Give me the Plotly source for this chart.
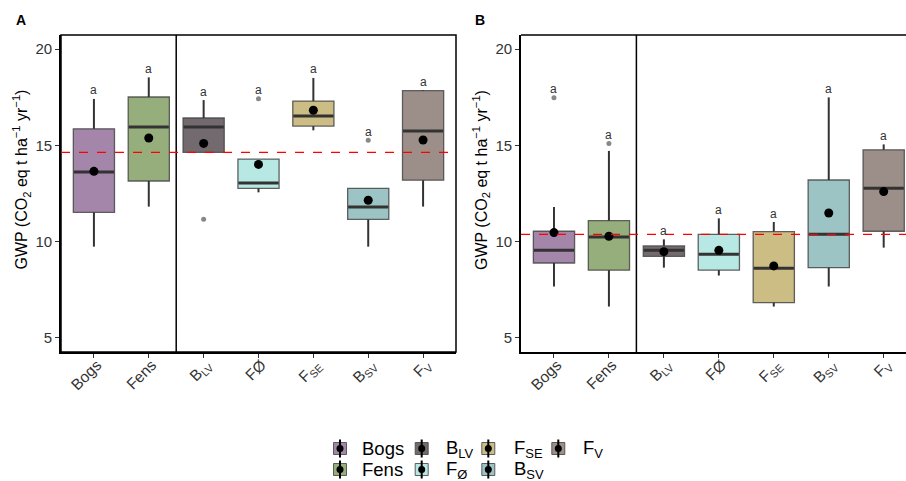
import plotly.graph_objects as go

# ---------------- data ----------------
categories = ["Bogs", "Fens", "BLV", "FØ", "FSE", "BSV", "FV"]
tick_labels = ["Bogs", "Fens", "B<sub>LV</sub>", "FØ", "F<sub>SE</sub>", "B<sub>SV</sub>", "F<sub>V</sub>"]
colors = ["#a386aa", "#96ae7b", "#736a6f", "#b8e8e4", "#ccbd85", "#9dc4c5", "#9c8f89"]
letters = ["a", "a", "a", "a", "a", "a", "a"]

# Panel A
a_lower = [9.74, 11.82, 14.64, 12.56, 15.78, 9.74, 11.82]
a_q1 = [11.52, 13.15, 14.64, 12.77, 16.00, 11.16, 13.19]
a_med = [13.62, 15.95, 15.95, 13.05, 16.52, 11.80, 15.74]
a_q3 = [15.86, 17.51, 16.42, 14.29, 17.30, 12.77, 17.84]
a_upper = [17.41, 18.53, 17.35, 14.29, 18.50, 12.77, 17.87]
a_mean = [13.65, 15.38, 15.10, 14.01, 16.82, 12.15, 15.28]
a_out_cat = ["BLV", "FØ", "BSV"]
a_out_val = [11.16, 17.42, 15.26]
a_ref = 14.64

# Panel B
b_lower = [7.67, 6.63, 8.65, 8.24, 6.63, 7.67, 9.69]
b_q1 = [8.89, 8.52, 9.24, 8.52, 6.83, 8.65, 10.54]
b_med = [9.55, 10.24, 9.55, 9.35, 8.62, 10.38, 12.77]
b_q3 = [10.54, 11.09, 9.78, 10.38, 10.52, 13.20, 14.77]
b_upper = [11.80, 14.71, 10.12, 11.21, 11.02, 17.49, 15.05]
b_mean = [10.47, 10.28, 9.48, 9.55, 8.74, 11.49, 12.60]
b_out_cat = ["Bogs", "Fens"]
b_out_val = [17.47, 15.10]
b_ref = 10.38

# ---------------- figure ----------------
W, H = 906, 481
FONT = "Liberation Sans, Arial, sans-serif"
BOXW = 0.75
pos = list(range(1, len(categories) + 1))
idx = {c: i for i, c in enumerate(categories)}

fig = go.Figure()


def add_panel(xa, ya, lower, q1, med, q3, upper, mean, out_cat, out_val):
    xref = "x" if xa == 1 else f"x{xa}"
    yref = "y" if ya == 1 else f"y{ya}"
    # whiskers
    wx, wy = [], []
    for i, p in enumerate(pos):
        wx += [p, p, None, p, p, None]
        wy += [lower[i], q1[i], None, q3[i], upper[i], None]
    fig.add_trace(go.Scatter(x=wx, y=wy, mode="lines", line=dict(color="#333333", width=2),
                             xaxis=xref, yaxis=yref, showlegend=False, hoverinfo="skip"))
    # boxes
    for i, p in enumerate(pos):
        fig.add_trace(go.Box(x=[p], q1=[q1[i]], median=[med[i]], q3=[q3[i]],
                             lowerfence=[q1[i]], upperfence=[q3[i]], width=BOXW,
                             fillcolor=colors[i], line=dict(color="rgba(70,70,70,0.85)", width=1.3),
                             xaxis=xref, yaxis=yref, showlegend=False, name=categories[i]))
    # medians
    mx, my = [], []
    for i, p in enumerate(pos):
        mx += [p - BOXW / 2 + 0.01, p + BOXW / 2 - 0.01, None]
        my += [med[i], med[i], None]
    fig.add_trace(go.Scatter(x=mx, y=my, mode="lines", line=dict(color="#333333", width=3),
                             xaxis=xref, yaxis=yref, showlegend=False, hoverinfo="skip"))
    # outliers
    fig.add_trace(go.Scatter(x=[pos[idx[c]] for c in out_cat], y=out_val, mode="markers",
                             marker=dict(color="#888888", size=5),
                             xaxis=xref, yaxis=yref, showlegend=False))
    # means
    fig.add_trace(go.Scatter(x=pos, y=mean, mode="markers",
                             marker=dict(color="black", size=9),
                             xaxis=xref, yaxis=yref, showlegend=False))
    # letters
    for i, p in enumerate(pos):
        top = upper[i]
        for c, v in zip(out_cat, out_val):
            if idx[c] == i:
                top = max(top, v)
        fig.add_annotation(x=p, y=top, xref=xref, yref=yref, text=letters[i], showarrow=False,
                           yanchor="middle", yshift=8.5, font=dict(size=12, color="#333333", family=FONT))


add_panel(1, 1, a_lower, a_q1, a_med, a_q3, a_upper, a_mean, a_out_cat, a_out_val)
add_panel(2, 2, b_lower, b_q1, b_med, b_q3, b_upper, b_mean, b_out_cat, b_out_val)

ydom = [1 - 352 / H, 1 - 35 / H]
yrange = [4.27, 20.73]
axis_common = dict(showline=True, linecolor="black", linewidth=1.8, ticks="outside", ticklen=4,
                   tickcolor="#333333", tickwidth=1.2, showgrid=False, zeroline=False,
                   tickfont=dict(size=15, color="#333333", family=FONT))
xaxis_extra = dict(tickangle=-45, ticklabelstandoff=-8, ticklabelshift=3,
                   tickfont=dict(size=15.5, color="#333333", family=FONT))
ax_x = {k: v for k, v in axis_common.items() if k != "tickfont"}

fig.update_layout(
    width=W, height=H, margin=dict(l=0, r=0, t=0, b=0),
    paper_bgcolor="white", plot_bgcolor="white",
    font=dict(family=FONT),
    showlegend=False,
    xaxis=dict(domain=[61 / W, 456 / W], range=[0.4, 7.6], tickvals=pos, ticktext=tick_labels,
               anchor="y", **ax_x, **xaxis_extra),
    yaxis=dict(domain=ydom, range=yrange, tickvals=[5, 10, 15, 20], anchor="x", **axis_common),
    xaxis2=dict(domain=[521 / W, 1.0], range=[0.4, 7.406], tickvals=pos, ticktext=tick_labels,
                anchor="y2", **ax_x, **xaxis_extra),
    yaxis2=dict(domain=ydom, range=yrange, tickvals=[5, 10, 15, 20], anchor="x2", **axis_common),
)

# borders, separators and reference lines
fig.add_shape(type="rect", xref="x domain", yref="y domain", x0=0, x1=1, y0=0, y1=1,
              line=dict(color="black", width=1.5), layer="above")
fig.add_shape(type="line", xref="x2 domain", yref="y2 domain", x0=0, x1=1, y0=1, y1=1,
              line=dict(color="black", width=1.5), layer="above")
for xr, yr in (("x", "y domain"), ("x2", "y2 domain")):
    fig.add_shape(type="line", xref=xr, yref=yr, x0=2.5, x1=2.5, y0=0, y1=1,
                  line=dict(color="black", width=1.5), layer="above")
fig.add_shape(type="line", xref="x domain", yref="y", x0=0, x1=1, y0=a_ref, y1=a_ref,
              line=dict(color="red", width=1.3, dash="dash"), layer="above")
fig.add_shape(type="line", xref="x2 domain", yref="y2", x0=0, x1=1, y0=b_ref, y1=b_ref,
              line=dict(color="red", width=1.3, dash="dash"), layer="above")

# y-axis titles
ytitle = "GWP (CO<sub>2</sub> eq t ha<sup>−1</sup> yr<sup>−1</sup>)"
for xp in (21.5 / W, 481 / W):
    fig.add_annotation(x=xp, y=1 - 180 / H, xref="paper", yref="paper", text=ytitle, textangle=-90,
                       xanchor="center", yanchor="middle",
                       showarrow=False, font=dict(size=16, color="black", family=FONT))

# panel letters
for lab, xp in (("A", 13.5 / W), ("B", 473.5 / W)):
    fig.add_annotation(x=xp, y=1 - 20.5 / H, xref="paper", yref="paper", text=f"<b>{lab}</b>",
                       xanchor="left", yanchor="middle", showarrow=False,
                       font=dict(size=14, color="black", family=FONT))

# custom legend (2 rows, column-major order)
legend_text = ["Bogs", "Fens", "B<sub>LV</sub>", "F<sub>Ø</sub>", "F<sub>SE</sub>", "B<sub>SV</sub>", "F<sub>V</sub>"]
col_key_x = [340, 421.7, 488.3, 558.3]
col_txt_x = [360, 443.5, 512, 581]
row_y = [448.5, 469.5]
for i, name in enumerate(legend_text):
    c, r = i // 2, i % 2
    kx, ky = col_key_x[c], row_y[r]
    fig.add_shape(type="rect", xref="paper", yref="paper",
                  x0=(kx - 6.5) / W, x1=(kx + 6.5) / W, y0=1 - (ky + 6) / H, y1=1 - (ky - 6) / H,
                  fillcolor=colors[i], line=dict(color="rgba(70,70,70,0.85)", width=1))
    fig.add_shape(type="line", xref="paper", yref="paper",
                  x0=kx / W, x1=kx / W, y0=1 - (ky + 9) / H, y1=1 - (ky - 9) / H,
                  line=dict(color="black", width=2))
    fig.add_shape(type="circle", xref="paper", yref="paper",
                  x0=(kx - 3.5) / W, x1=(kx + 3.5) / W, y0=1 - (ky + 3.5) / H, y1=1 - (ky - 3.5) / H,
                  fillcolor="black", line=dict(color="black", width=0))
    fig.add_annotation(x=col_txt_x[c] / W, y=1 - ky / H, xref="paper", yref="paper", text=name,
                       xanchor="left", yanchor="middle", showarrow=False,
                       font=dict(size=18.5, color="black", family=FONT))

fig.write_html("out.html", config={"displayModeBar": False},
               post_script="document.body.style.margin='0px';document.body.style.overflow='hidden';")
